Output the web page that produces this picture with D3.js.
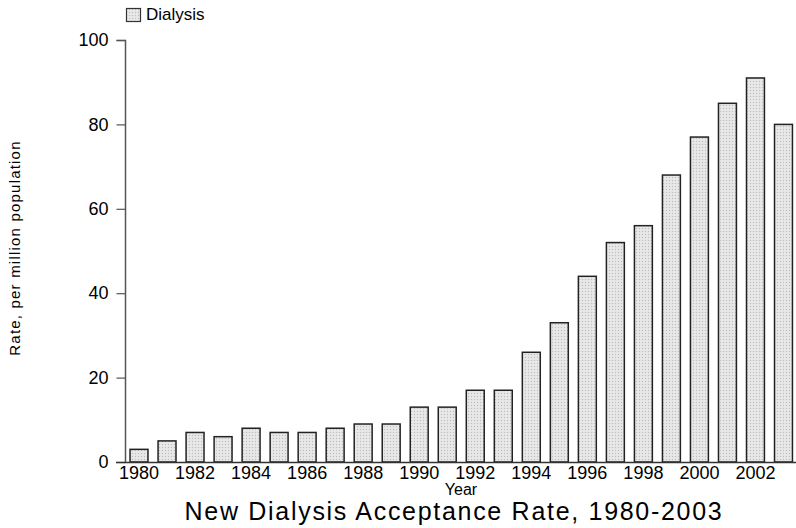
<!DOCTYPE html>
<html>
<head>
<meta charset="utf-8">
<script src="https://cdn.jsdelivr.net/npm/d3@7"></script>
<style>
  html, body { margin: 0; padding: 0; background: #fff; }
  text { font-family: "Liberation Sans", Arial, sans-serif; fill: #000; }
</style>
</head>
<body>
<svg id="chart" width="796" height="528"></svg>
<script>
const years = ["1980","1981","1982","1983","1984","1985","1986","1987","1988","1989","1990","1991",
               "1992","1993","1994","1995","1996","1997","1998","1999","2000","2001","2002","2003"];
const dialysis = [3, 5, 7, 6, 8, 7, 7, 8, 9, 9, 13, 13, 17, 17, 26, 33, 44, 52, 56, 68, 77, 85, 91, 80];
const yTicks = [0, 20, 40, 60, 80, 100];
const xTickLabels = ["1980","1982","1984","1986","1988","1990","1992","1994","1996","1998","2000","2002"];
const seriesName = "Dialysis";
const titleText = "New Dialysis Acceptance Rate, 1980-2003";
const xTitle = "Year";
const yTitle = "Rate, per million population";

const svg = d3.select("#chart");

// pattern for bar fill
const defs = svg.append("defs");
const pat = defs.append("pattern")
  .attr("id", "dots").attr("patternUnits", "userSpaceOnUse")
  .attr("width", 3).attr("height", 3);
pat.append("rect").attr("width", 3).attr("height", 3).attr("fill", "#e4e4e4");
pat.append("rect").attr("x", 0).attr("y", 0).attr("width", 1).attr("height", 1).attr("fill", "#bdbdbd");
pat.append("rect").attr("x", 1.5).attr("y", 1.5).attr("width", 1).attr("height", 1).attr("fill", "#f4f4f4");

const x = d3.scaleBand().domain(years).range([125, 797.5]).paddingInner(0.36).paddingOuter(0.18);
const y = d3.scaleLinear().domain([0, 100]).range([462, 40]);

// bars
svg.append("g").selectAll("rect").data(years).join("rect")
  .attr("x", d => x(d))
  .attr("y", (d, i) => y(dialysis[i]))
  .attr("width", x.bandwidth())
  .attr("height", (d, i) => y(0) - y(dialysis[i]))
  .attr("fill", "url(#dots)")
  .attr("stroke", "#222")
  .attr("stroke-width", 1.5);

// y axis
const yAxis = d3.axisLeft(y).tickValues(yTicks).tickSize(9).tickPadding(8).tickFormat(d3.format("d"));
const gy = svg.append("g").attr("transform", "translate(125.5,0)").call(yAxis);
gy.select(".domain").attr("stroke", "#555").attr("stroke-width", 1.5).attr("d", "M-9,40.5H0V462");
gy.selectAll(".tick line").attr("stroke", "#555").attr("stroke-width", 1.2);
gy.selectAll(".tick text").style("font-size", "18px").style("font-family", "Liberation Sans, Arial, sans-serif").attr("fill", "#000");

// x axis
const xAxis = d3.axisBottom(x).tickValues(xTickLabels).tickSize(0).tickPadding(4);
const gx = svg.append("g").attr("transform", "translate(0,462.5)").call(xAxis);
gx.select(".domain").attr("stroke", "#333").attr("stroke-width", 1.5).attr("d", "M116,0H796");
gx.selectAll(".tick text").style("font-size", "18px").style("font-family", "Liberation Sans, Arial, sans-serif").attr("fill", "#000");

// axis titles
svg.append("text").attr("x", 461).attr("y", 495).attr("text-anchor", "middle")
  .style("font-size", "16px").text(xTitle);
svg.append("text").attr("transform", "translate(20,248) rotate(-90)").attr("text-anchor", "middle")
  .style("font-size", "15px").style("letter-spacing", "1.2px").text(yTitle);

// chart title
svg.append("text").attr("x", 454).attr("y", 520).attr("text-anchor", "middle")
  .style("font-size", "25px").style("letter-spacing", "1.7px").text(titleText);

// legend
svg.append("rect").attr("x", 126.5).attr("y", 8.5).attr("width", 14).attr("height", 13)
  .attr("fill", "url(#dots)").attr("stroke", "#333").attr("stroke-width", 1.2);
svg.append("text").attr("x", 146).attr("y", 20).style("font-size", "17px").text(seriesName);
</script>
</body>
</html>
